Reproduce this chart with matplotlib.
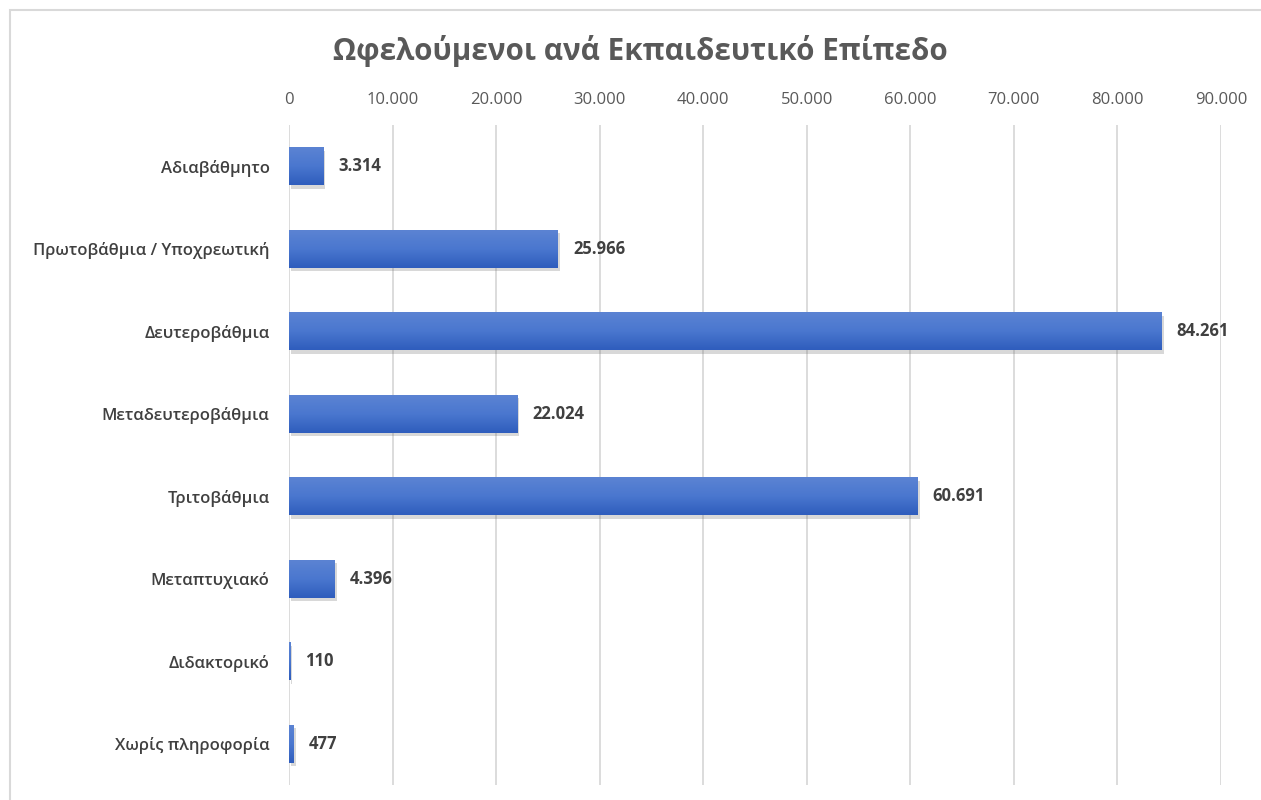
import matplotlib.pyplot as plt
import matplotlib.patheffects as pe
from matplotlib.patches import Rectangle
from matplotlib.colors import LinearSegmentedColormap
import numpy as np

plt.rcParams['font.family'] = ['Open Sans', 'DejaVu Sans']

categories = ['Αδιαβάθμητο', 'Πρωτοβάθμια / Υποχρεωτική', 'Δευτεροβάθμια',
              'Μεταδευτεροβάθμια', 'Τριτοβάθμια', 'Μεταπτυχιακό',
              'Διδακτορικό', 'Χωρίς πληροφορία']
values = [3314, 25966, 84261, 22024, 60691, 4396, 110, 477]
labels = ['3.314', '25.966', '84.261', '22.024', '60.691', '4.396', '110', '477']
ticks = [0, 10000, 20000, 30000, 40000, 50000, 60000, 70000, 80000, 90000]
tick_labels = ['0', '10.000', '20.000', '30.000', '40.000', '50.000',
               '60.000', '70.000', '80.000', '90.000']

fig = plt.figure(figsize=(12.61, 8), dpi=100)

# light frame like the Excel chart area
fig.patches.append(Rectangle((10/1261, -0.1), 1.2, 1 - 10/800 + 0.1,
                             transform=fig.transFigure, fill=False,
                             edgecolor='#d9d9d9', linewidth=1.5))

ax = fig.add_axes([289/1261, 15/800, 932/1261, 660/800])
y = np.arange(len(categories))
h = 0.46

grad = np.linspace(0, 1, 50).reshape(-1, 1)
cmap = LinearSegmentedColormap.from_list('g', ['#5b83d3', '#4a77cf', '#2f5dbd'])

bars = ax.barh(y, values, height=h, color='#3f6cc9', zorder=3,
               path_effects=[pe.SimplePatchShadow(offset=(1.5, -2.5), alpha=0.25,
                                                  shadow_rgbFace='#666666'),
                             pe.Normal()])
for yi, v in zip(y, values):
    ax.imshow(grad, extent=(0, v, yi + h/2, yi - h/2), cmap=cmap,
              aspect='auto', zorder=4, interpolation='bicubic')

for yi, v, lab in zip(y, values, labels):
    ax.annotate(lab, (v, yi), xytext=(11, 0), textcoords='offset points',
                va='center', ha='left', fontsize=12, fontweight='bold',
                color='#404040', zorder=5)

ax.set_xlim(0, 90000)
ax.set_ylim(len(categories) - 0.5, -0.5)
ax.set_xticks(ticks)
ax.set_xticklabels(tick_labels)
ax.xaxis.tick_top()
ax.tick_params(axis='x', length=0, pad=12, labelsize=12, labelcolor='#595959')
ax.set_yticks(y)
ax.set_yticklabels(categories, fontsize=12, fontweight='semibold', color='#404040')
ax.tick_params(axis='y', length=0, pad=14)
ax.grid(axis='x', color='#d9d9d9', linewidth=1.3, zorder=0)
ax.set_axisbelow(True)
for s in ax.spines.values():
    s.set_visible(False)

fig.text(640/1261, 1 - 51/800, 'Ωφελούμενοι ανά Εκπαιδευτικό Επίπεδο',
         ha='center', va='center', fontsize=21.3, fontweight='bold', color='#595959')

fig.savefig('out.png', dpi=100)
